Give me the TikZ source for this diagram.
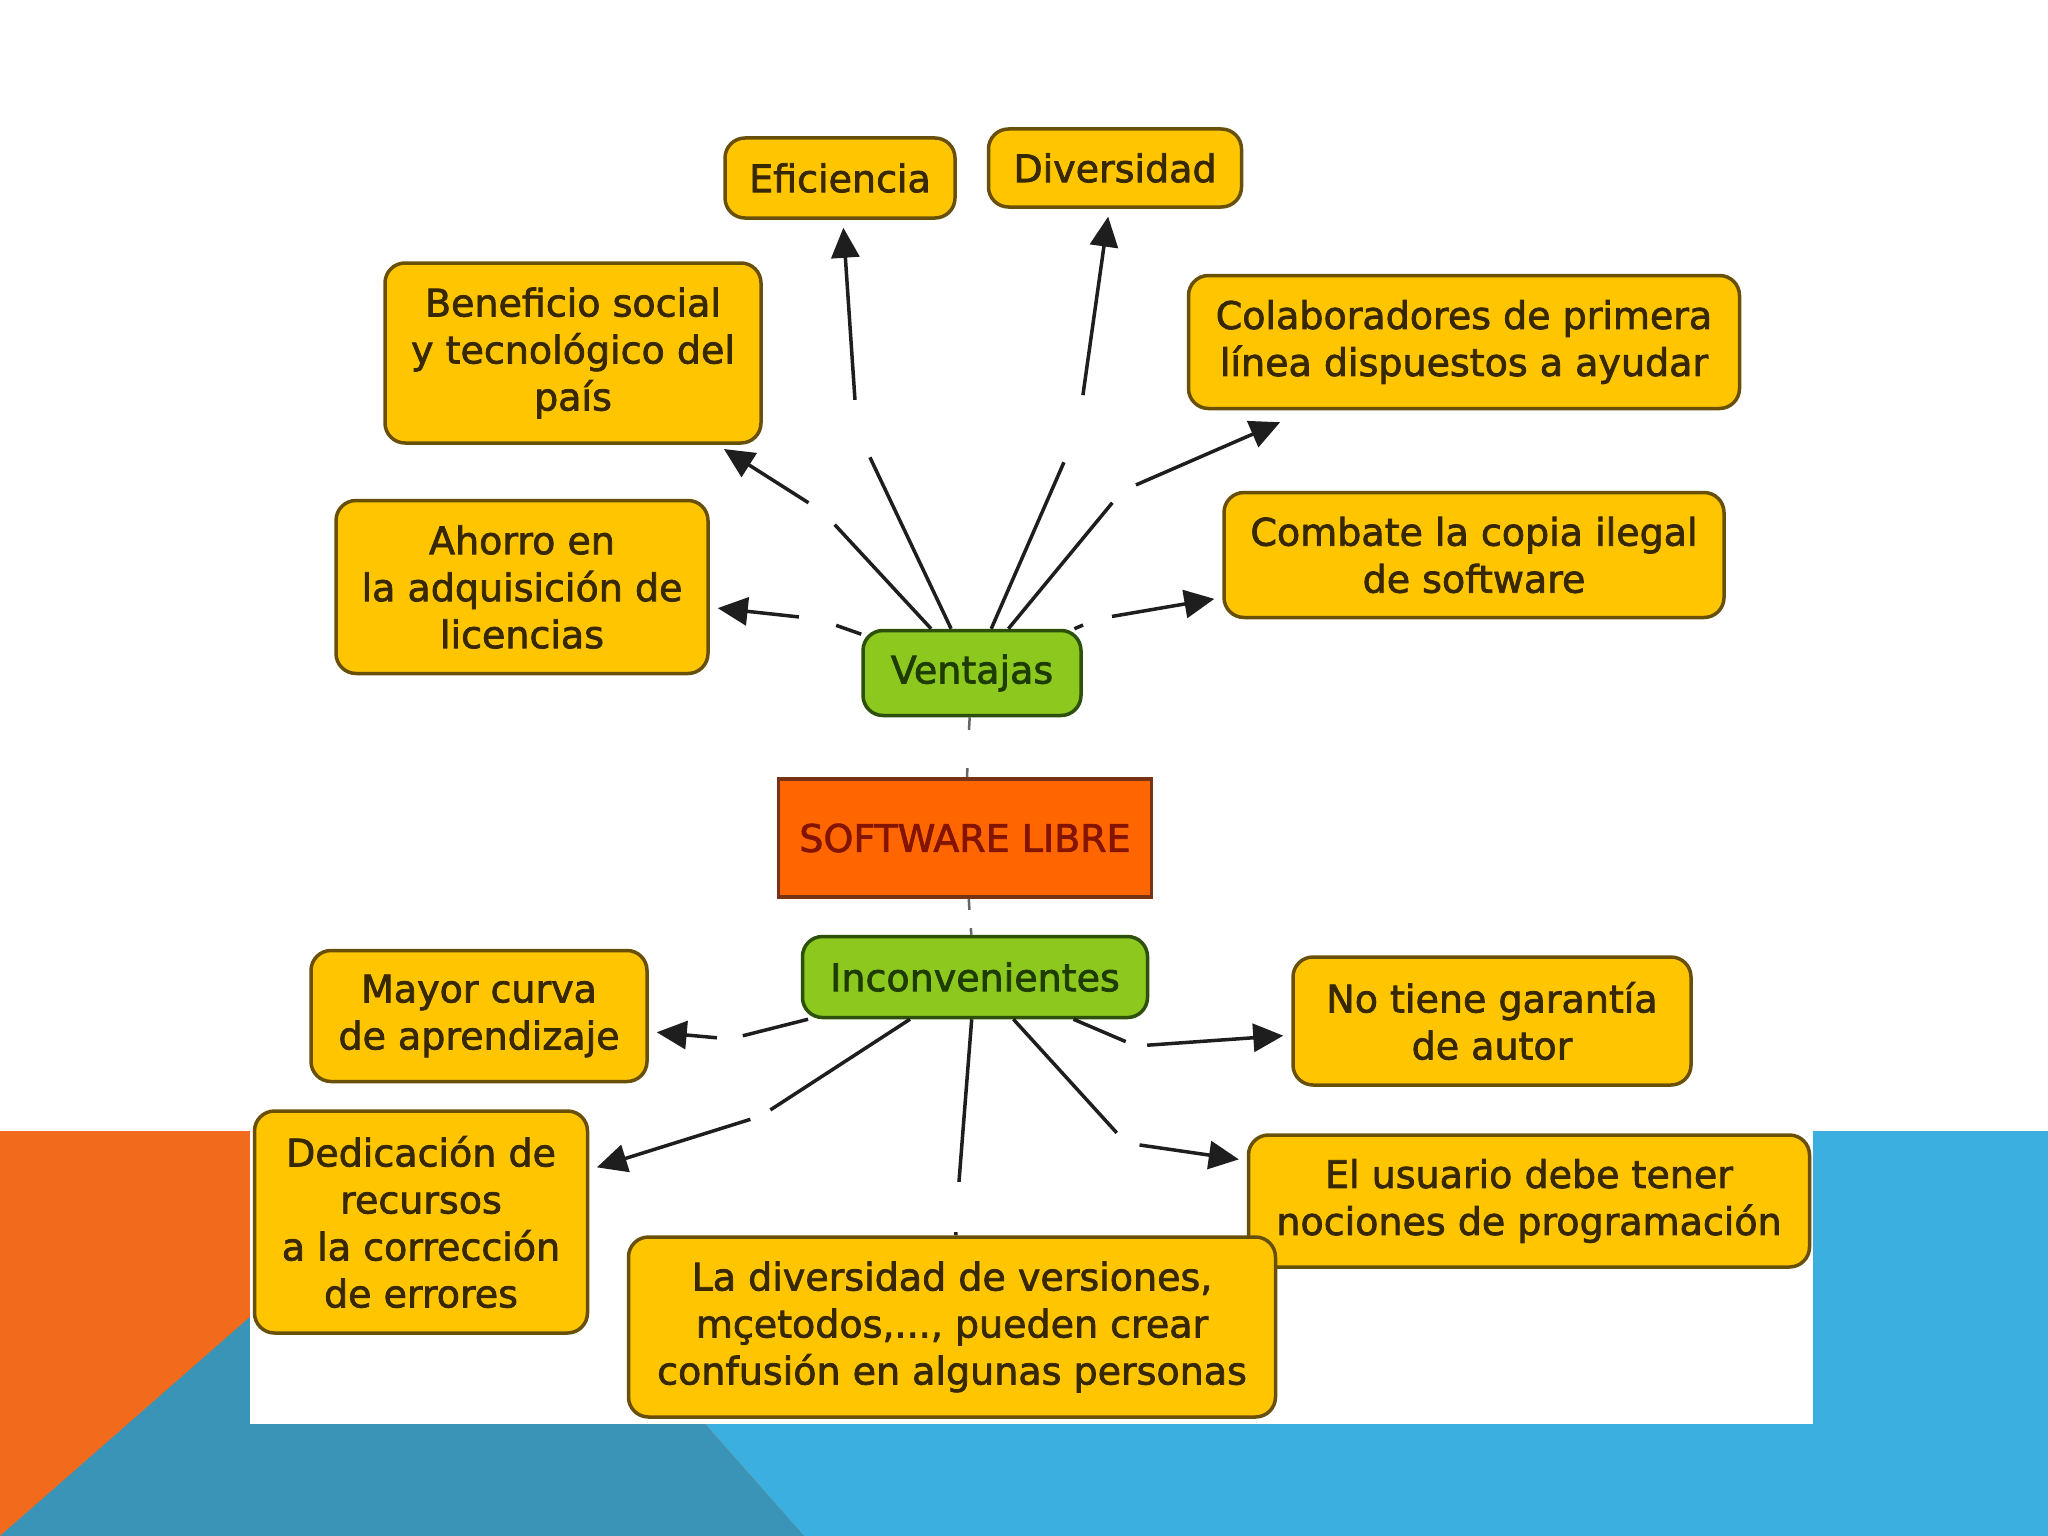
\documentclass[tikz,border=0pt]{standalone}
\usepackage{fontspec}
\setmainfont{DejaVu Sans}
\newfontfamily\embfont{DejaVu Sans}[FakeBold=2]
\usetikzlibrary{arrows.meta}
\definecolor{yfill}{RGB}{255,198,0}
\definecolor{ybord}{RGB}{105,80,10}
\definecolor{ytext}{RGB}{55,40,0}
\definecolor{gfill}{RGB}{140,200,30}
\definecolor{gbord}{RGB}{45,80,10}
\definecolor{gtext}{RGB}{30,60,0}
\definecolor{sfill}{RGB}{255,102,0}
\definecolor{sbord}{RGB}{120,50,20}
\definecolor{stext}{RGB}{130,20,0}
\definecolor{lineC}{RGB}{30,30,30}
\definecolor{bgorange}{RGB}{242,106,27}
\definecolor{bgteal}{RGB}{58,148,184}
\definecolor{bglight}{RGB}{59,176,224}
\begin{document}
\begin{tikzpicture}[x=1pt,y=-1pt,
  box/.style={draw=ybord, line width=3.5pt, fill=yfill, rounded corners=20pt,
    align=center, text=ytext, font=\embfont\fontsize{38}{47}\selectfont, inner sep=0pt},
  gbox/.style={box, draw=gbord, fill=gfill, text=gtext},
  sbox/.style={draw=sbord, line width=3.5pt, fill=sfill, align=center, text=stext,
    font=\embfont\fontsize{38}{47}\selectfont, inner sep=0pt},
  lp/.style={circle, inner sep=0pt, minimum size=#1},
  conn/.style={draw=lineC, line width=3.5pt},
  arr/.style={conn, -{Triangle[length=30pt,width=28pt]}, shorten >=8pt},
  faint/.style={draw=gray!80!black, line width=2.5pt}]
\useasboundingbox (0,0) rectangle (2048,1536);
% background
\fill[white] (0,0) rectangle (2048,1536);
\fill[bgorange] (0,1131) rectangle (2048,1536);
\fill[bglight] (447,1131) -- (2048,1131) -- (2048,1536) -- (804,1536) -- cycle;
\fill[bgteal] (0,1536) -- (453,1139) -- (804,1536) -- cycle;
\fill[white] (250,1131) rectangle (1813,1424);
% concept nodes
\node[box, minimum width=230pt, minimum height=80pt] (efi) at (840,178) {Eficiencia};
\node[box, minimum width=253pt, minimum height=78pt] (div) at (1115,168) {Diversidad};
\node[box, minimum width=376pt, minimum height=180pt] (ben) at (573,353) {Beneficio social\\y tecnológico del\\país};
\node[box, minimum width=551pt, minimum height=133pt] (col) at (1464,342) {Colaboradores de primera\\línea dispuestos a ayudar};
\node[box, minimum width=372pt, minimum height=173pt] (aho) at (522,587) {Ahorro en\\la adquisición de\\licencias};
\node[box, minimum width=500pt, minimum height=125pt] (com) at (1474,555) {Combate la copia ilegal\\de software};
\node[gbox, minimum width=218pt, minimum height=85pt] (ven) at (972,673) {Ventajas};
\node[sbox, minimum width=373pt, minimum height=118pt] (sw) at (965,838) {SOFTWARE LIBRE};
\node[gbox, minimum width=345pt, minimum height=81pt] (inc) at (975,977) {Inconvenientes};
\node[box, minimum width=336pt, minimum height=131pt] (may) at (479,1016) {Mayor curva\\de aprendizaje};
\node[box, minimum width=398pt, minimum height=128pt] (nog) at (1492,1021) {No tiene garantía\\de autor};
\node[box, minimum width=333pt, minimum height=222pt] (ded) at (421,1222) {Dedicación de\\recursos\\a la corrección\\de errores};
\node[box, minimum width=561pt, minimum height=132pt] (usu) at (1529,1201) {El usuario debe tener\\nociones de programación};
\node[box, minimum width=647pt, minimum height=180pt] (ldv) at (952,1327) {La diversidad de versiones,\\mçetodos,..., pueden crear\\confusión en algunas personas};
% empty linking phrases (gaps)
\node[lp=38pt] (lA) at (818,619) {};
\node[lp=34pt] (lB) at (823,512) {};
\node[lp=60pt] (lC) at (857,430) {};
\node[lp=70pt] (lD) at (1078,430) {};
\node[lp=30pt] (lE) at (1122,491) {};
\node[lp=30pt] (lF) at (1097,619) {};
\node[lp=26pt] (lG) at (730,1039) {};
\node[lp=22pt] (lH) at (761,1116) {};
\node[lp=50pt] (lI) at (957,1207) {};
\node[lp=22pt] (lJ) at (1136,1046) {};
\node[lp=27pt] (lK) at (1126,1143) {};
\node[lp=38pt] (lS1) at (968,749) {};
\node[lp=18pt] (lS2) at (970,919) {};
% connectors
\draw[conn] (ven) -- (lA); \draw[arr] (lA) -- (aho);
\draw[conn] (ven) -- (lB); \draw[arr] (lB) -- (ben);
\draw[conn] (ven) -- (lC); \draw[arr] (lC) -- (efi);
\draw[conn] (ven) -- (lD); \draw[arr] (lD) -- (div);
\draw[conn] (ven) -- (lE); \draw[arr, shorten >=30pt] (lE) -- (col);
\draw[conn] (ven) -- (lF); \draw[arr] (lF) -- (com);
\draw[conn] (inc) -- (lG); \draw[arr] (lG) -- (may);
\draw[conn] (inc) -- (lH); \draw[arr] (lH) -- (ded);
\draw[conn] (inc) -- (lI); \draw[conn] (lI) -- (ldv);
\draw[conn] (inc) -- (lJ); \draw[arr] (lJ) -- (nog);
\draw[conn] (inc) -- (lK); \draw[arr] (lK) -- (usu);
\draw[faint] (ven) -- (lS1); \draw[faint] (lS1) -- (sw);
\draw[faint] (sw) -- (lS2); \draw[faint] (lS2) -- (inc);
\end{tikzpicture}
\end{document}
